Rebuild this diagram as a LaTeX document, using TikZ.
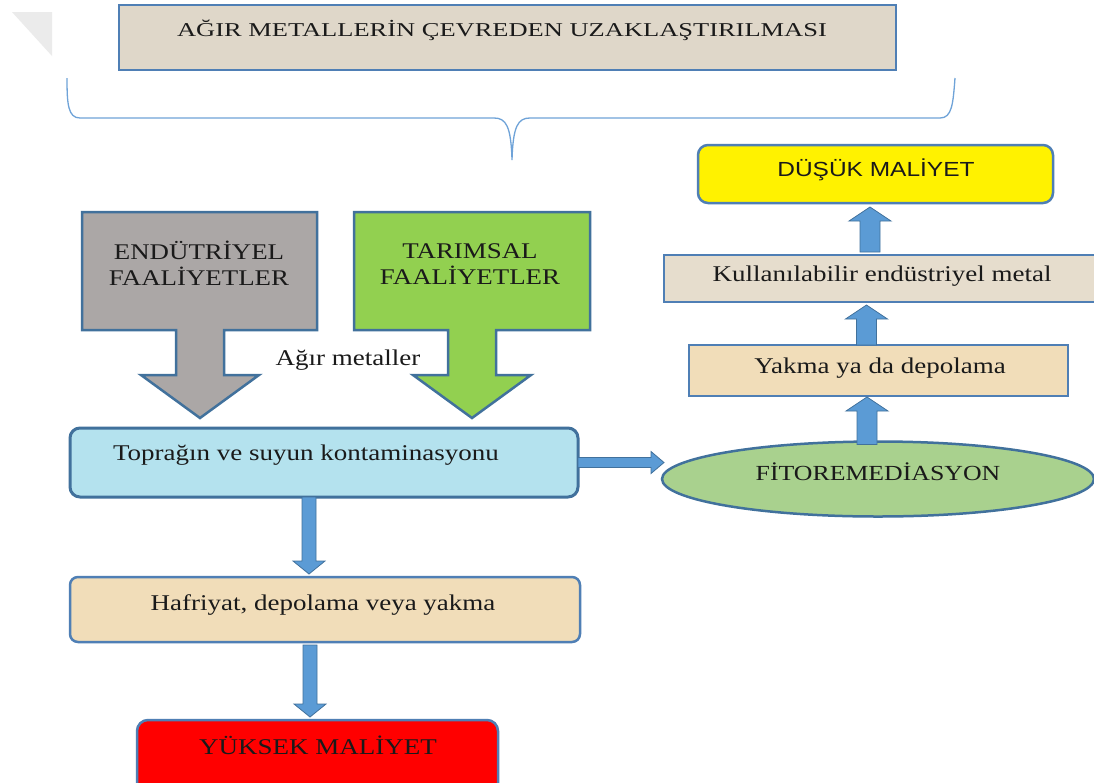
\documentclass[tikz,border=0pt]{standalone}
\usepackage{fontspec}
\setmainfont[FakeStretch=1.2]{Liberation Serif}
\newfontfamily\titlefont[FakeStretch=1.35]{Liberation Serif}
\newfontfamily\labelsans[FakeStretch=1.2]{Liberation Sans}
\usetikzlibrary{calc,shapes.geometric}

\definecolor{edgeblue}{HTML}{41719C}
\definecolor{frameblue}{HTML}{4F7FB5}
\definecolor{arrowblue}{HTML}{5B9BD5}
\definecolor{braceblue}{HTML}{6FA3D8}
\definecolor{parchment}{HTML}{DFD7C9}
\definecolor{linen}{HTML}{E6DDCD}
\definecolor{wheat}{HTML}{F1DDB9}
\definecolor{stone}{HTML}{ABA7A6}
\definecolor{leaf}{HTML}{92D050}
\definecolor{sage}{HTML}{A9D18E}
\definecolor{aqua}{HTML}{B4E2EE}
\definecolor{cornertint}{HTML}{EBEBEB}
\definecolor{inkblack}{HTML}{1A1A1A}

\tikzset{
  boxbase/.style={draw=frameblue, line width=2.5pt, inner sep=0pt, outer sep=0pt, anchor=north west},
  titlebox/.style={boxbase, fill=parchment},
  platebox/.style={boxbase, fill=linen},
  wheatbox/.style={boxbase, fill=wheat, rounded corners=8pt},
  waterbox/.style={boxbase, draw=edgeblue, line width=3pt, fill=aqua, rounded corners=10pt},
  costbox/.style={boxbase, rounded corners=11pt},
  blockarrow/.style={fill=arrowblue, draw=edgeblue, line width=0.8pt, line join=miter},
  sourceshape/.style={draw=edgeblue, line width=2.5pt, line join=miter},
  txt/.style={inner sep=0pt, text=inkblack, font=\fontsize{22.5}{26}\selectfont, align=center},
}

% vertical block arrow pointing up: base #1, tip height taken from #2
\newcommand\upblock[2]{%
  \draw[blockarrow] let \p1=(#1), \p2=(#2) in
    (\x1-10pt,\y1) -- (\x1-10pt,\y2-14pt) -- (\x1-21pt,\y2-14pt) -- (\x1,\y2)
    -- (\x1+21pt,\y2-14pt) -- (\x1+10pt,\y2-14pt) -- (\x1+10pt,\y1) -- cycle;}
% vertical block arrow pointing down
\newcommand\downblock[2]{%
  \draw[blockarrow] let \p1=(#1), \p2=(#2) in
    (\x1-7pt,\y1) -- (\x1-7pt,\y2+13pt) -- (\x1-16pt,\y2+13pt) -- (\x1,\y2)
    -- (\x1+16pt,\y2+13pt) -- (\x1+7pt,\y2+13pt) -- (\x1+7pt,\y1) -- cycle;}
% horizontal block arrow pointing right
\newcommand\rightblock[2]{%
  \draw[blockarrow] let \p1=(#1), \p2=(#2) in
    (\x1,\y1+5pt) -- (\x2-13pt,\y1+5pt) -- (\x2-13pt,\y1+11pt) -- (\x2,\y1)
    -- (\x2-13pt,\y1-11pt) -- (\x2-13pt,\y1-5pt) -- (\x1,\y1-5pt) -- cycle;}

\begin{document}
\begin{tikzpicture}[x=1pt, y=-1pt]
\useasboundingbox (0,0) rectangle (1094,782);
\fill[white] (0,0) rectangle (1094,782);

% folded page corner
\fill[cornertint] (12,12) -- (52,12) -- (52,56) -- cycle;

% heading and its brace
\node[titlebox, minimum width=777pt, minimum height=65pt] (title) at (119,5) {};
\node[txt, font=\titlefont\fontsize{19.6}{22}\selectfont] (titletext) at (502,30)
  {AĞIR METALLERİN ÇEVREDEN UZAKLAŞTIRILMASI};
\draw[braceblue, line width=1.3pt]
  (67,78) .. controls (67,104) and (68,118) .. (80,118) -- (494,118)
  .. controls (506,118) and (511,126) .. (512,160)
  .. controls (513,126) and (518,118) .. (530,118) -- (940,118)
  .. controls (952,118) and (953,104) .. (955,78);

% pollution sources
\draw[sourceshape, fill=stone] (82,212) -- (317,212) -- (317,330) -- (224,330) -- (224,375)
  -- (259,375) -- (200,418) -- (141,375) -- (176,375) -- (176,330) -- (82,330) -- cycle;
\draw[sourceshape, fill=leaf] (354,212) -- (590,212) -- (590,330) -- (496,330) -- (496,375)
  -- (531,375) -- (472,418) -- (413,375) -- (448,375) -- (448,330) -- (354,330) -- cycle;
\node[txt, font=\fontsize{22.4}{26}\selectfont] (industry) at (199,263) {ENDÜTRİYEL\\FAALİYETLER};
\node[txt, font=\fontsize{22.4}{26}\selectfont] (farming) at (470,264) {TARIMSAL\\FAALİYETLER};
\node[txt] (metals) at (348,360) {Ağır metaller};

% conventional route
\node[waterbox, minimum width=508pt, minimum height=69pt] (cont) at (70,428) {};
\node[txt] (conttext) at (306,455) {Toprağın ve suyun kontaminasyonu};
\node[wheatbox, minimum width=510pt, minimum height=65pt] (haf) at (70,577) {};
\node[txt] (haftext) at (323,605) {Hafriyat, depolama veya yakma};
\node[costbox, fill=red, minimum width=361pt, minimum height=75pt] (high) at (137,720) {};
\node[txt] (hightext) at (318,745) {YÜKSEK MALİYET};
\downblock{$(cont.south)+(-15,0)$}{$(haf.north)+(0,-3)$}
\downblock{$(haf.south)+(-15,3)$}{$(high.north)+(0,-3)$}

% phytoremediation route
\node[draw=edgeblue, line width=2.5pt, fill=sage, ellipse, inner sep=0pt, outer sep=0pt,
  minimum width=432pt, minimum height=75pt] (phyto) at (878,479) {};
\node[txt, font=\fontsize{21.5}{26}\selectfont] (phytotext) at (878,472) {FİTOREMEDİASYON};
\node[wheatbox, rounded corners=0pt, minimum width=379pt, minimum height=51pt] (yak) at (689,345) {};
\node[txt] (yaktext) at (880,368) {Yakma ya da depolama};
\node[platebox, minimum width=436pt, minimum height=47pt] (kul) at (664,255) {};
\node[txt] (kultext) at (882,276) {Kullanılabilir endüstriyel metal};
\node[costbox, rounded corners=10pt, fill=yellow, minimum width=355pt, minimum height=58pt] (low) at (698,145) {};
\node[txt, font=\labelsans\fontsize{20.4}{24}\selectfont] (lowtext) at (876,170) {DÜŞÜK MALİYET};
\rightblock{cont.east}{$(phyto.west)+(2,-9)$}
\upblock{$(phyto.north)+(-11,3)$}{$(yak.south)+(0,1)$}
\upblock{$(yak.north)+(-12,0)$}{$(kul.south)+(0,3)$}
\upblock{$(kul.north)+(-12,-3)$}{$(low.south)+(0,4)$}
\end{tikzpicture}
\end{document}
